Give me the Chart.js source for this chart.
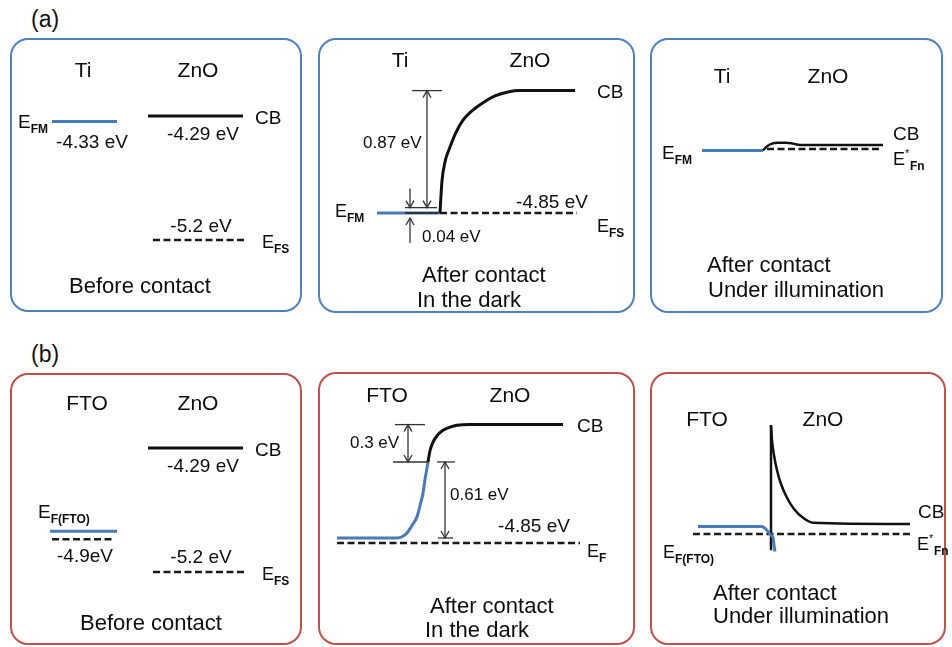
<!DOCTYPE html>
<html>
<head>
<meta charset="utf-8">
<script src="https://cdn.jsdelivr.net/npm/chart.js@4.4.1/dist/chart.umd.min.js"></script>
<style>
  body { margin: 0; background: #fff; width: 952px; height: 647px; position: relative; overflow: hidden;
         font-family: "Liberation Sans", Arial, sans-serif; color: #111; }
  .box { position: absolute; box-sizing: border-box; border: 2px solid; border-radius: 18px; }
  canvas { position: absolute; }
  .tag { position: absolute; font-size: 23px; line-height: 23px; }
</style>
</head>
<body>
<div class="tag" style="left:31px;top:8px">(a)</div>
<div class="tag" style="left:31px;top:343px">(b)</div>
<script>
// energies (eV)
// (a) Ti / ZnO
const tiBefore  = [-4.33, -4.29, -5.2];          // Ti E_FM, ZnO CB, ZnO E_FS
const tiDark    = [-4.85, -4.81, -3.94];         // E_F, top of the 0.04 eV step, barrier top (+0.87)
const tiLight   = [-4.33, -4.32];                // Ti E_FM, ZnO E*_Fn
// (b) FTO / ZnO
const ftoBefore = [-4.9, -4.96, -4.29, -5.2];    // FTO E_F, its dashed twin, ZnO CB, ZnO E_FS
const ftoDark   = [-4.85, -4.89, -4.24, -3.94];  // FTO E_F, common E_F, band at interface (+0.61), CB (+0.3)
const ftoLight  = [-4.31, -4.37];                // FTO E_F, ZnO E*_Fn

// band profiles: position across the figure / energy (eV)
const tiDarkCbX   = [440, 441, 442, 445, 450, 456, 463, 472, 483, 495, 508, 520, 575];
const tiDarkCbE   = [-4.85, -4.72, -4.61, -4.47, -4.36, -4.25, -4.16, -4.09, -4.03, -3.98, -3.95, -3.94, -3.94];
const tiLightCbX  = [763, 767, 772, 778, 786, 793, 800, 883];
const tiLightCbE  = [-4.33, -4.30, -4.28, -4.273, -4.273, -4.28, -4.29, -4.29];
const ftoDarkCbX  = [428, 430, 433, 438, 443, 450, 457, 470, 563];
const ftoDarkCbE  = [-4.24, -4.15, -4.08, -4.02, -3.985, -3.96, -3.945, -3.94, -3.94];
const ftoDarkEfX  = [337, 397, 402, 407, 412, 417, 420, 423, 425, 428];
const ftoDarkEfE  = [-4.85, -4.85, -4.84, -4.81, -4.75, -4.68, -4.59, -4.49, -4.38, -4.24];
const ftoLightSpikeE = [-4.50, -3.50];
const ftoLightCbX = [771, 772, 774, 777, 781, 787, 794, 803, 813, 910];
const ftoLightCbE = [-3.50, -3.62, -3.74, -3.86, -3.97, -4.08, -4.17, -4.24, -4.28, -4.29];
const ftoLightEfX = [698, 762, 765, 768, 771, 773, 774, 775];
const ftoLightEfE = [-4.31, -4.31, -4.325, -4.35, -4.38, -4.40, -4.46, -4.51];

const FONT = '"Liberation Sans", Arial, sans-serif';
const BLUE_EDGE = '#4f81bd', RED_EDGE = '#c0504d';
const BLACK = { borderColor: '#111', borderWidth: 3 };
const BLUE  = { borderColor: '#4a7ab8', borderWidth: 3 };
const DASH  = { borderColor: '#1a1a1a', borderWidth: 2.5, borderDash: [7, 3.5] };
const THIN  = { borderColor: '#333', borderWidth: 1.3 };
const CURVE = { cubicInterpolationMode: 'monotone' };

function series(xs, es, style) {
  return Object.assign({ data: xs.map((x, i) => ({ x, y: es[i] })), showLine: true,
    pointRadius: 0, borderCapStyle: 'butt', fill: false }, style);
}
function level(x0, x1, e, style) { return series([x0, x1], [e, e], style); }

// lines are listed bottom-most first
const panels = [
  { left: 10, top: 38, w: 292, h: 274, edge: BLUE_EDGE, eRef: -4.29, yRef: 116, k: 136.3,
    lines: [level(52, 117, tiBefore[0], BLUE), level(148, 243, tiBefore[1], BLACK), level(153, 247, tiBefore[2], DASH)],
    labels: [
      { t: 'Ti', x: 83, y: 77, size: 21, align: 'center' },
      { t: 'ZnO', x: 198, y: 77, size: 21, align: 'center' },
      { t: 'E', sub: 'FM', x: 18, y: 128, size: 19 },
      { t: '-4.33 eV', x: 92, y: 148, size: 19, align: 'center' },
      { t: 'CB', x: 255, y: 124, size: 19 },
      { t: '-4.29 eV', x: 203, y: 140, size: 19, align: 'center' },
      { t: '-5.2 eV', x: 201, y: 232, size: 19, align: 'center' },
      { t: 'E', sub: 'FS', x: 262, y: 248, size: 18 },
      { t: 'Before contact', x: 140, y: 293, size: 22, align: 'center' }
    ] },
  { left: 318, top: 38, w: 317, h: 275, edge: BLUE_EDGE, eRef: -4.85, yRef: 213, k: 134.5,
    lines: [level(377, 440, tiDark[0], BLUE), level(405, 438, tiDark[0], { borderColor: '#2a3440', borderWidth: 2 }),
            level(440, 577, tiDark[0], DASH), series(tiDarkCbX, tiDarkCbE, { ...BLACK, ...CURVE }),
            level(405, 437, tiDark[1], THIN), level(412, 442, tiDark[2], THIN)],
    arrows: [{ x: 427, from: tiDark[1], to: tiDark[2], both: true },
             { x: 410, at: tiDark[1], dir: 'down', len: 19, gap: 0 },
             { x: 410, at: tiDark[0], dir: 'up', len: 25, gap: 5 }],
    labels: [
      { t: 'Ti', x: 400, y: 67, size: 21, align: 'center' },
      { t: 'ZnO', x: 530, y: 67, size: 21, align: 'center' },
      { t: 'CB', x: 597, y: 98, size: 19 },
      { t: '0.87 eV', x: 363, y: 148, size: 17 },
      { t: '0.04 eV', x: 422, y: 242, size: 17 },
      { t: '-4.85 eV', x: 552, y: 208, size: 19, align: 'center' },
      { t: 'E', sub: 'FM', x: 335, y: 217, size: 18 },
      { t: 'E', sub: 'FS', x: 597, y: 232, size: 18 },
      { t: 'After contact', x: 422, y: 282, size: 22 },
      { t: 'In the dark', x: 417, y: 307, size: 22 }
    ] },
  { left: 650, top: 38, w: 293, h: 275, edge: BLUE_EDGE, eRef: -4.29, yRef: 145, k: 136,
    lines: [level(702, 763, tiLight[0], BLUE), level(767, 882, tiLight[1], DASH),
            series(tiLightCbX, tiLightCbE, { borderColor: '#111', borderWidth: 2.5, ...CURVE })],
    labels: [
      { t: 'Ti', x: 722, y: 83, size: 21, align: 'center' },
      { t: 'ZnO', x: 828, y: 83, size: 21, align: 'center' },
      { t: 'E', sub: 'FM', x: 662, y: 159, size: 19 },
      { t: 'CB', x: 893, y: 140, size: 19 },
      { t: 'E', sup: '*', sub: 'Fn', x: 893, y: 165, size: 18 },
      { t: 'After contact', x: 707, y: 272, size: 22 },
      { t: 'Under illumination', x: 708, y: 297, size: 22 }
    ] },
  { left: 10, top: 373, w: 292, h: 272, edge: RED_EDGE, eRef: -4.29, yRef: 448, k: 136.3,
    lines: [level(50, 117, ftoBefore[0], BLUE), level(52, 115, ftoBefore[1], DASH),
            level(148, 243, ftoBefore[2], BLACK), level(153, 247, ftoBefore[3], DASH)],
    labels: [
      { t: 'FTO', x: 87, y: 410, size: 21, align: 'center' },
      { t: 'ZnO', x: 198, y: 410, size: 21, align: 'center' },
      { t: 'CB', x: 255, y: 456, size: 19 },
      { t: '-4.29 eV', x: 203, y: 472, size: 19, align: 'center' },
      { t: 'E', sub: 'F(FTO)', x: 38, y: 518, size: 19 },
      { t: '-4.9eV', x: 85, y: 562, size: 19, align: 'center' },
      { t: '-5.2 eV', x: 201, y: 563, size: 19, align: 'center' },
      { t: 'E', sub: 'FS', x: 262, y: 580, size: 18 },
      { t: 'Before contact', x: 151, y: 630, size: 22, align: 'center' }
    ] },
  { left: 318, top: 372, w: 317, h: 273, edge: RED_EDGE, eRef: -4.85, yRef: 538, k: 124.6,
    lines: [level(337, 580, ftoDark[1], DASH), series(ftoDarkEfX, ftoDarkEfE, { ...BLUE, ...CURVE }),
            series(ftoDarkCbX, ftoDarkCbE, { ...BLACK, ...CURVE }),
            level(395, 425, ftoDark[3], THIN), level(393, 428, ftoDark[2], THIN),
            level(437, 455, ftoDark[2], THIN), level(438, 453, ftoDark[0], THIN)],
    arrows: [{ x: 408, from: ftoDark[2], to: ftoDark[3], both: true },
             { x: 445, from: ftoDark[0], to: ftoDark[2], both: true }],
    labels: [
      { t: 'FTO', x: 387, y: 402, size: 21, align: 'center' },
      { t: 'ZnO', x: 510, y: 402, size: 21, align: 'center' },
      { t: 'CB', x: 577, y: 432, size: 19 },
      { t: '0.3 eV', x: 350, y: 448, size: 17 },
      { t: '0.61 eV', x: 450, y: 500, size: 17 },
      { t: '-4.85 eV', x: 534, y: 532, size: 19, align: 'center' },
      { t: 'E', sub: 'F', x: 587, y: 557, size: 18 },
      { t: 'After contact', x: 430, y: 613, size: 22 },
      { t: 'In the dark', x: 425, y: 637, size: 22 }
    ] },
  { left: 650, top: 372, w: 296, h: 273, spill: 6, edge: RED_EDGE, eRef: -4.29, yRef: 524, k: 125,
    lines: [level(693, 910, ftoLight[1], DASH), series([771, 771], ftoLightSpikeE, { borderColor: '#111', borderWidth: 2.5 }),
            series(ftoLightCbX, ftoLightCbE, { borderColor: '#111', borderWidth: 2.5, ...CURVE }),
            series(ftoLightEfX, ftoLightEfE, { ...BLUE, ...CURVE })],
    labels: [
      { t: 'FTO', x: 707, y: 426, size: 21, align: 'center' },
      { t: 'ZnO', x: 823, y: 426, size: 21, align: 'center' },
      { t: 'CB', x: 918, y: 518, size: 19 },
      { t: 'E', sup: '*', sub: 'Fn', x: 917, y: 550, size: 18 },
      { t: 'E', sub: 'F(FTO)', x: 663, y: 558, size: 18 },
      { t: 'After contact', x: 713, y: 600, size: 22 },
      { t: 'Under illumination', x: 713, y: 623, size: 22 }
    ] }
];

function drawHead(ctx, x, y, dir) {
  ctx.beginPath();
  ctx.moveTo(x - 4, y - dir * 7);
  ctx.lineTo(x, y);
  ctx.lineTo(x + 4, y - dir * 7);
  ctx.stroke();
}

function annotations(p) {
  return {
    id: 'annotations',
    afterDatasetsDraw(chart) {
      const { ctx, scales: { x, y } } = chart;
      ctx.save();
      ctx.strokeStyle = '#333';
      ctx.lineWidth = 1.3;
      (p.arrows || []).forEach(a => {
        const px = x.getPixelForValue(a.x);
        let y0, y1;
        if (a.from !== undefined) {
          y0 = y.getPixelForValue(a.from);
          y1 = y.getPixelForValue(a.to);
        } else {
          const s = a.dir === 'up' ? 1 : -1;
          y1 = y.getPixelForValue(a.at) + s * a.gap;
          y0 = y1 + s * a.len;
        }
        ctx.beginPath();
        ctx.moveTo(px, y0);
        ctx.lineTo(px, y1);
        ctx.stroke();
        const dir = Math.sign(y1 - y0);
        drawHead(ctx, px, y1, dir);
        if (a.both) drawHead(ctx, px, y0, -dir);
      });
      ctx.fillStyle = '#0d0d0d';
      ctx.textBaseline = 'alphabetic';
      p.labels.forEach(L => {
        const lx = x.getPixelForValue(L.x), ly = L.y - p.top;
        ctx.font = L.size + 'px ' + FONT;
        ctx.textAlign = L.align || 'left';
        ctx.fillText(L.t, lx, ly);
        if (L.sub || L.sup) {
          let sx = lx + ctx.measureText(L.t).width;
          ctx.textAlign = 'left';
          if (L.sup) {
            ctx.font = '11px ' + FONT;
            ctx.fillText(L.sup, sx, ly - 8);
            sx += 5;
          }
          ctx.font = 'bold 12px ' + FONT;
          ctx.fillText(L.sub, sx, ly + 5);
        }
      });
      ctx.restore();
    }
  };
}

panels.forEach(p => {
  const spill = p.spill || 0; // canvas may reach past the right edge of the box for labels
  const box = document.createElement('div');
  box.className = 'box';
  Object.assign(box.style, { left: p.left + 'px', top: p.top + 'px', width: p.w + 'px', height: p.h + 'px', borderColor: p.edge });
  document.body.appendChild(box);

  const canvas = document.createElement('canvas');
  canvas.width = p.w + spill;
  canvas.height = p.h;
  Object.assign(canvas.style, { left: p.left + 'px', top: p.top + 'px', width: (p.w + spill) + 'px', height: p.h + 'px' });
  document.body.appendChild(canvas);

  const local = p.yRef - p.top;
  const datasets = p.lines.slice().reverse(); // first dataset is drawn on top

  new Chart(canvas, {
    type: 'scatter',
    data: { datasets },
    options: {
      responsive: false,
      animation: false,
      events: [],
      layout: { padding: 0 },
      plugins: { legend: { display: false }, tooltip: { enabled: false } },
      scales: {
        x: { type: 'linear', display: false, min: p.left, max: p.left + p.w + spill },
        y: { type: 'linear', display: false, min: p.eRef - (p.h - local) / p.k, max: p.eRef + local / p.k }
      }
    },
    plugins: [annotations(p)]
  });
});
</script>
</body>
</html>
